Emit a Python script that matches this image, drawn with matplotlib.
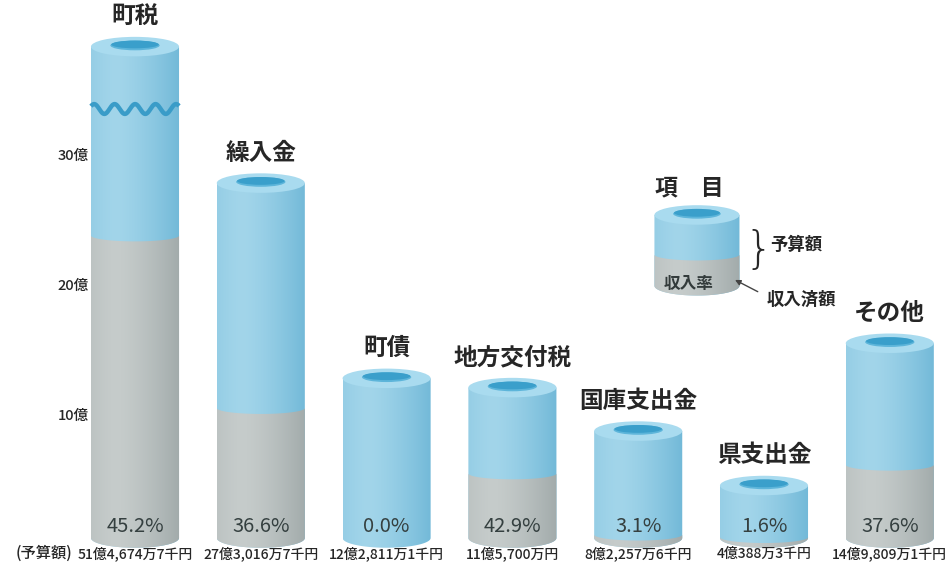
import matplotlib.pyplot as plt
import numpy as np
from matplotlib.patches import Ellipse, Polygon
from matplotlib.colors import to_rgb

plt.rcParams['font.family'] = ['Noto Sans CJK JP', 'DejaVu Sans']

# data (億円)
categories = ['町税', '繰入金', '町債', '地方交付税', '国庫支出金', '県支出金', 'その他']
budget = [51.4747, 27.3017, 12.2811, 11.5700, 8.2258, 4.0388, 14.9809]
rate = [45.2, 36.6, 0.0, 42.9, 3.1, 1.6, 37.6]  # 収入率 %
budget_labels = ['51億4,674万7千円', '27億3,016万7千円', '12億2,811万1千円',
                 '11億5,700万円', '8億2,257万6千円', '4億388万3千円', '14億9,809万1千円']
yticks = [10, 20, 30]
ytick_labels = ['10億', '20億', '30億']

CAP = 37.8     # where the tall bar is cut off
BREAK = 33.0   # wavy break line
W = 0.70       # bar width
EH = 0.75      # half height of the ellipses

BLUE_L, BLUE_D = to_rgb('#a2d5ea'), to_rgb('#72b9d8')
GREY_L, GREY_D = to_rgb('#c6cccb'), to_rgb('#a2abab')
TOP_C = '#a9dbef'
HOLE_C = '#3a9fcb'
TXT = '#262626'


def shaded(ax, verts, x0, x1, y0, y1, light, dark, z):
    poly = Polygon(verts, closed=True, facecolor='none', edgecolor='none')
    ax.add_patch(poly)
    t = np.linspace(0, 1, 120)
    g = (np.abs(t - 0.28) / 0.72) ** 1.4
    cols = np.array(light) + (np.array(dark) - np.array(light)) * g[:, None]
    im = ax.imshow(cols[None, :, :], extent=(x0, x1, y0, y1), aspect='auto',
                   interpolation='bilinear', zorder=z)
    im.set_clip_path(poly)


def body(xc, w, y0, y1, curved_top=False):
    th = np.linspace(np.pi, 2 * np.pi, 60)
    bottom = np.column_stack([xc + w / 2 * np.cos(th), y0 + EH * np.sin(th)])
    if curved_top:
        top = np.column_stack([xc + w / 2 * np.cos(th[::-1]), y1 + EH * 0.6 * np.sin(th[::-1])])
    else:
        top = np.array([[xc + w / 2, y1], [xc - w / 2, y1]])
    return np.vstack([bottom, top])


def cylinder(ax, xc, w, y0, y1, ygrey, z=2):
    shaded(ax, body(xc, w, y0, y1), xc - w / 2, xc + w / 2, y0 - EH, y1,
           BLUE_L, BLUE_D, z)
    if ygrey > y0:
        shaded(ax, body(xc, w, y0, ygrey, curved_top=True), xc - w / 2, xc + w / 2,
               y0 - EH, ygrey, GREY_L, GREY_D, z + 0.1)
    ax.add_patch(Ellipse((xc, y1), w, 2 * EH, facecolor=TOP_C, edgecolor='none', zorder=z + 0.2))
    ax.add_patch(Ellipse((xc, y1 + EH * 0.12), w * 0.56, EH * 1.0,
                         facecolor='#5db5da', edgecolor='none', zorder=z + 0.3))
    ax.add_patch(Ellipse((xc, y1 + EH * 0.22), w * 0.54, EH * 0.8,
                         facecolor=HOLE_C, edgecolor='none', zorder=z + 0.4))


fig = plt.figure(figsize=(9.52, 5.69), dpi=100)
ax = fig.add_axes([0, 0, 1, 1])
ax.axis('off')

x = np.arange(len(categories))
for i in range(len(categories)):
    top = min(budget[i], CAP)
    grey = budget[i] * rate[i] / 100
    cylinder(ax, x[i], W, 0, top, grey)
    if budget[i] > CAP:
        xs = np.linspace(x[i] - W / 2, x[i] + W / 2, 200)
        ys = BREAK + 0.38 * np.sin(2 * np.pi * 4.3 * (xs - xs[0]) / W + 0.6)
        ax.plot(xs, ys, color='#3a9cc8', lw=3.2, zorder=5, solid_capstyle='butt')
    ax.annotate(categories[i], (x[i], top), xytext=(0, 22), textcoords='offset points',
                ha='center', va='center', fontsize=17, fontweight='bold', color=TXT)
    ax.text(x[i], 0.85, f'{rate[i]:.1f}%', ha='center', va='center',
            fontsize=14.5, color='#354040', zorder=6)
    ax.text(x[i], -1.2, budget_labels[i], ha='center', va='center', fontsize=10,
            fontweight='medium', color=TXT)

ax.text(-0.5, -1.2, '(予算額)', ha='right', va='center', fontsize=11,
        fontweight='medium', color=TXT)

for v, lab in zip(yticks, ytick_labels):
    ax.text(-0.37, v - 0.6, lab, ha='right', va='center', fontsize=10.5,
            fontweight='medium', color=TXT)

# legend cylinder
lx = 4.467
cylinder(ax, lx, 0.676, 19.4, 24.85, 21.8)
ax.text(lx - 0.07, 19.55, '収入率', ha='center', va='center', fontsize=12,
        fontweight='bold', color='#333b3b', zorder=6)
ax.text(lx - 0.06, 26.9, '項　目', ha='center', va='center', fontsize=16.5,
        fontweight='bold', color=TXT)
ax.text(4.96, 22.15, '}', ha='center', va='center', fontsize=32,
        fontweight='light', family='DejaVu Sans', color=TXT)
ax.text(5.26, 22.55, '予算額', ha='center', va='center', fontsize=12.5,
        fontweight='bold', color=TXT)
ax.text(5.3, 18.35, '収入済額', ha='center', va='center', fontsize=12.5,
        fontweight='bold', color=TXT)
ax.annotate('', xy=(4.75, 19.95), xytext=(4.97, 18.85),
            arrowprops=dict(arrowstyle='-|>', color='#444', lw=1, mutation_scale=8))

ax.set_xlim(-135 / 125.8, (952 - 135) / 125.8)
ax.set_ylim(-31 / 13, 538 / 13)
ax.set_aspect('auto')

fig.savefig('out.png', dpi=100)
